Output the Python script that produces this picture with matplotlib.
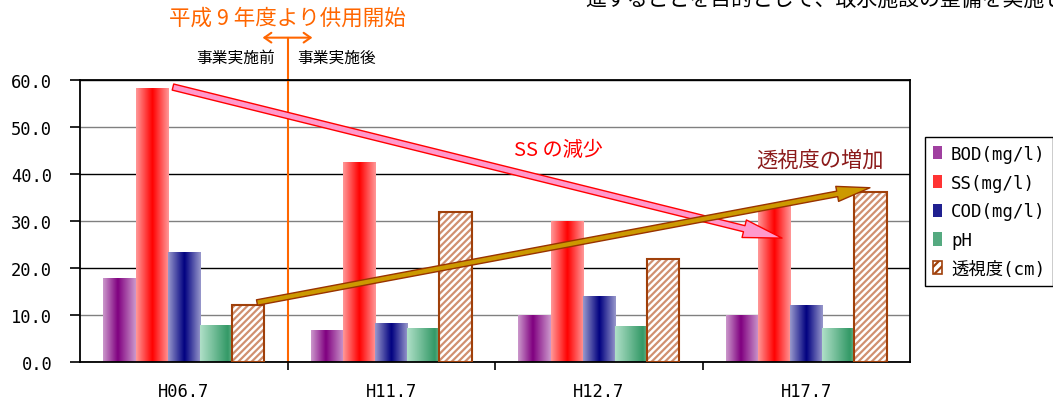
import numpy as np
import matplotlib
matplotlib.use("Agg")
from matplotlib import pyplot as plt
from matplotlib.colors import LinearSegmentedColormap
from matplotlib.patches import Patch

categories = ["H06.7", "H11.7", "H12.7", "H17.7"]
bod = [17.8, 6.7, 9.9, 9.9]
ss = [58.2, 42.3, 29.9, 33.1]
cod = [23.2, 8.2, 13.9, 12.0]
ph = [7.7, 7.2, 7.5, 7.2]
toshido = [12.1, 32.0, 22.0, 36.2]
labels = ["BOD(mg/l)", "SS(mg/l)", "COD(mg/l)", "pH", "透視度(cm)"]

JP = ["Noto Sans CJK JP", "DejaVu Sans"]
MONO = ["DejaVu Sans Mono", "Noto Sans CJK JP"]

# gradient stops for each plain series
grads = [
    [(0, "#CC99CC"), (0.45, "#800080"), (1, "#CC99CC")],
    [(0, "#FF9999"), (0.5, "#FF0000"), (1, "#FF9999")],
    [(0, "#9999CC"), (0.5, "#000080"), (1, "#9999CC")],
    [(0, "#B0E0C8"), (0.85, "#339966"), (1, "#70B890")],
]
legend_cols = ["#A040A0", "#FF3333", "#202090", "#55AA80"]

fig = plt.figure(figsize=(10.53, 4.02), dpi=100)
ax = fig.add_axes([80 / 1053, 1 - 363.3 / 402, 830 / 1053, 282.3 / 402])

x = np.arange(len(categories))
w = 0.155
series = [bod, ss, cod, ph]
for k, (vals, stops) in enumerate(zip(series, grads)):
    bars = ax.bar(x + (k - 2) * w, vals, w, color=legend_cols[k], zorder=2)
    cmap = LinearSegmentedColormap.from_list("g%d" % k, stops)
    grad = np.linspace(0, 1, 128)[np.newaxis, :]
    for r in bars:
        ax.imshow(grad, extent=(r.get_x(), r.get_x() + r.get_width(), 0, r.get_height()),
                  cmap=cmap, aspect="auto", interpolation="bicubic", zorder=2.5)

plt.rcParams["hatch.linewidth"] = 1.6
ax.bar(x + 2 * w, toshido, w, facecolor="white", edgecolor="#D09070", hatch="/////", lw=0, zorder=2)
ax.bar(x + 2 * w, toshido, w, facecolor="none", edgecolor="#A0400A", lw=1.5, zorder=3)

ax.set_xlim(-0.5, 3.5)
ax.set_ylim(0, 60)
ax.set_yticks(np.arange(0, 61, 10))
ax.set_yticklabels(["%.1f" % v for v in np.arange(0, 61, 10)], family=MONO, fontsize=12.3)
ax.set_xticks(x)
ax.set_xticklabels(categories, family=MONO, fontsize=12.3)
ax.tick_params(axis="x", length=0, pad=14)
ax.set_xticks([0.5, 1.5, 2.5], minor=True)
ax.tick_params(axis="x", which="minor", length=6, width=1.2, direction="out")
ax.tick_params(axis="y", length=7, width=1.2, direction="out", pad=13)
ax.yaxis.grid(True, zorder=0)
for i, gl in enumerate(ax.get_ygridlines()):
    gl.set_color("#808080" if i % 2 else "black")
    gl.set_linewidth(1.0)
ax.set_axisbelow(True)
for s in ax.spines.values():
    s.set_linewidth(1.3)
    s.set_color("black")

# start of operation marker
ax.plot([0.5, 0.5], [0, 69], color="#FF6600", lw=1.5, clip_on=False, zorder=1)
ax.annotate("", xy=(0.38, 69), xytext=(0.62, 69), annotation_clip=False,
            arrowprops=dict(arrowstyle="<->,head_length=0.5,head_width=0.35", color="#FF6600", lw=1.5,
                            shrinkA=0, shrinkB=0))
ax.text(0.5, 73.2, "平成 9 年度より供用開始", color="#FF6600", family=JP, fontsize=15.5,
        ha="center", va="center", clip_on=False)
ax.text(0.44, 64.9, "事業実施前", family=JP, fontsize=11.3, ha="right", va="center")
ax.text(0.546, 64.9, "事業実施後", family=JP, fontsize=11.3, ha="left", va="center")

# trend arrows
ax.annotate("", xy=(2.883, 26.4), xytext=(-0.052, 58.5),
            arrowprops=dict(arrowstyle="simple,head_width=1.3,head_length=2.8,tail_width=0.45",
                            fc="#FF99CC", ec="red", lw=1, mutation_scale=10, shrinkA=0, shrinkB=0),
            zorder=5)
ax.annotate("", xy=(3.307, 37.1), xytext=(0.353, 12.7),
            arrowprops=dict(arrowstyle="simple,head_width=1.1,head_length=2.4,tail_width=0.4",
                            fc="#CC9900", ec="#993300", lw=1, mutation_scale=10, shrinkA=0, shrinkB=0),
            zorder=6)
ax.text(1.808, 45.3, "SS の減少", color="red", family=JP, fontsize=14.5, ha="center", va="center")
ax.text(3.066, 43.0, "透視度の増加", color="#8B1A1A", family=JP, fontsize=15.3, ha="center", va="center",
        clip_on=False)

handles = [Patch(facecolor=c) for c in legend_cols]
handles.append(Patch(facecolor="white", edgecolor="#A0400A", hatch="////", lw=1.2))
leg = fig.legend(handles, labels, loc="upper left", bbox_to_anchor=(925 / 1053, 1 - 138 / 402),
                 prop={"family": MONO, "size": 12.5}, frameon=True, fancybox=False,
                 edgecolor="black", framealpha=1, handlelength=0.55, handleheight=0.8,
                 handletextpad=0.5, labelspacing=0.62, borderpad=0.45, borderaxespad=0)
leg.get_frame().set_linewidth(1.0)

fig.text(585 / 1053, 1 - 0 / 402, "進することを目的として、取水施設の整備を実施した。", family=JP,
         fontsize=15, ha="left", va="center")

fig.savefig("out.png", dpi=100, facecolor="white")
